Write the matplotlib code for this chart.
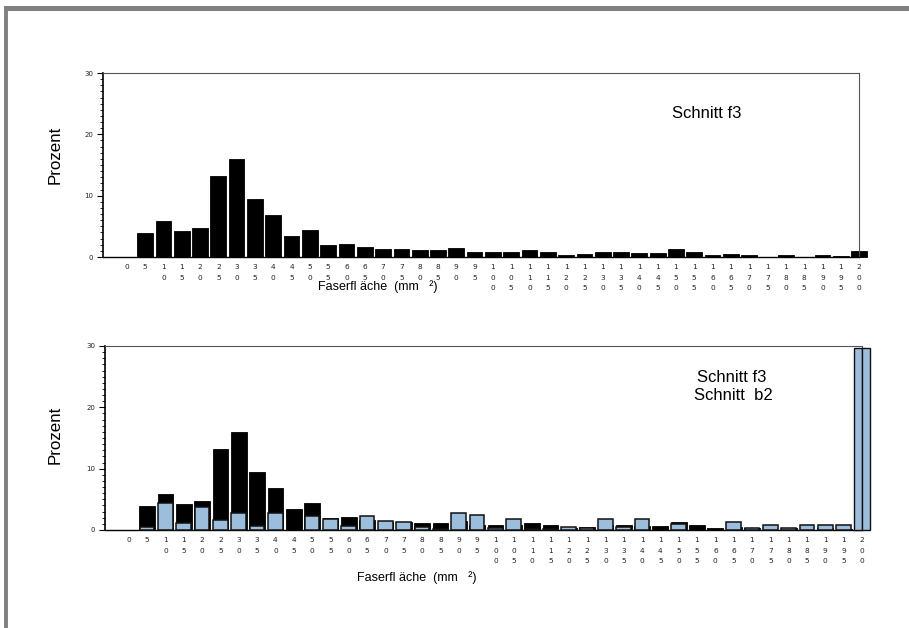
import matplotlib
matplotlib.use("Agg")
import matplotlib.pyplot as plt
from matplotlib.ticker import MultipleLocator
from matplotlib.lines import Line2D

# Faserfläche classes (mm²), 0 ... 200 in steps of 5
classes = [0, 5, 10, 15, 20, 25, 30, 35, 40, 45, 50, 55, 60, 65, 70, 75, 80, 85,
           90, 95, 100, 105, 110, 115, 120, 125, 130, 135, 140, 145, 150, 155,
           160, 165, 170, 175, 180, 185, 190, 195, 200]

# Percent of fibres per class, Schnitt f3
f3 = [0, 3.9, 5.9, 4.2, 4.7, 13.2, 16.0, 9.4, 6.8, 3.5, 4.4, 1.9, 2.1, 1.6, 1.3,
      1.3, 1.2, 1.2, 1.5, 0.8, 0.8, 0.8, 1.1, 0.8, 0.3, 0.5, 0.8, 0.8, 0.6, 0.6,
      1.3, 0.8, 0.4, 0.5, 0.4, 0.0, 0.3, 0.0, 0.4, 0.1, 0.9]

# Percent of fibres per class, Schnitt b2
b2 = [0, 0.5, 4.4, 1.2, 3.8, 1.7, 2.8, 0.6, 2.8, 0.0, 2.3, 1.8, 0.7, 2.3, 1.4,
      1.25, 0.55, 0.2, 2.8, 2.4, 0.3, 1.8, 0.2, 0.2, 0.55, 0.3, 1.8, 0.5, 1.8,
      0.0, 0.9, 0.0, 0.0, 1.35, 0.25, 0.8, 0.4, 0.8, 0.8, 0.8, 29.6]

tick_labels = ["\n".join(str(c)) for c in classes]
xlabel_text = "Faserfl äche  (mm   ²)"
ylabel_text = "Prozent"
blue = "#9dbddc"
W, H = 909, 628

fig = plt.figure(figsize=(W / 100, H / 100), dpi=100)
fig.patch.set_facecolor("white")

# grey frame along top and left edge
fig.add_artist(Line2D([4 / W, 1.0], [1 - 8 / H, 1 - 8 / H], color="#808080",
                      lw=3.6, transform=fig.transFigure, solid_capstyle="butt"))
fig.add_artist(Line2D([5.5 / W, 5.5 / W], [0, 1 - 6 / H], color="#808080",
                      lw=2.8, transform=fig.transFigure, solid_capstyle="butt"))


def px_text(x, y, s, **kw):
    # place text by pixel position measured from the top-left corner
    return fig.text(x / W, 1 - y / H, s, family="Liberation Sans", **kw)


def make_axes(left, right, bottom, top):
    ax = fig.add_axes([left / W, 1 - bottom / H, (right - left) / W, (bottom - top) / H])
    ax.set_xlim(-1.3, 39.95)
    ax.set_ylim(0, 30)
    ax.yaxis.set_major_locator(MultipleLocator(10))
    ax.yaxis.set_minor_locator(MultipleLocator(1))
    ax.tick_params(axis="y", which="major", length=4, width=0.8, labelsize=5,
                   pad=3, labelcolor="#222222", direction="out")
    ax.tick_params(axis="y", which="minor", length=2.5, width=0.6, direction="out")
    ax.set_xticks(range(len(classes)))
    ax.set_xticklabels(tick_labels, fontsize=5.3, linespacing=1.95, color="#222222")
    ax.tick_params(axis="x", length=0, pad=5)
    for side in ("top", "right"):
        ax.spines[side].set_color("#555555")
        ax.spines[side].set_linewidth(0.8)
    ax.spines["left"].set_linewidth(1.2)
    ax.spines["bottom"].set_linewidth(1.0)
    return ax


def draw_bars(ax, positions, values, **kw):
    # skip empty classes so no flat outlines are drawn
    pos = [p for p, v in zip(positions, values) if v > 0]
    val = [v for v in values if v > 0]
    bars = ax.bar(pos, val, **kw)
    for b in bars:
        b.set_clip_on(False)
    return bars


idx = list(range(len(classes)))

# upper panel: Schnitt f3
ax1 = make_axes(103, 859, 257, 73)
draw_bars(ax1, idx, f3, width=0.86, color="black", edgecolor="black", lw=0.6, zorder=2)
px_text(672, 113, "Schnitt f3", fontsize=12, ha="left", va="center")
px_text(318, 287, xlabel_text, fontsize=9, ha="left", va="center")
px_text(55, 155, ylabel_text, fontsize=12.2, rotation=90, ha="center", va="center")

# lower panel: Schnitt f3 against Schnitt b2
ax2 = make_axes(105, 862, 530, 346)
draw_bars(ax2, idx, f3, width=0.86, color="black", edgecolor="black", lw=0.6, zorder=2)
draw_bars(ax2, idx[:-1], b2[:-1], width=0.8, color=blue, edgecolor="#111111",
          lw=1.1, zorder=3)
# widest class drawn as two halves
last = idx[-1]
draw_bars(ax2, [last - 0.21, last + 0.21], [b2[-1], b2[-1]], width=0.42,
          color=blue, edgecolor="#111111", lw=1.0, zorder=3)
px_text(697, 377, "Schnitt f3", fontsize=12, ha="left", va="center")
px_text(694, 396, "Schnitt  b2", fontsize=12, ha="left", va="center")
px_text(357, 578, xlabel_text, fontsize=9, ha="left", va="center")
px_text(55, 435, ylabel_text, fontsize=12.2, rotation=90, ha="center", va="center")

fig.savefig("out.png", dpi=100, facecolor="white")
